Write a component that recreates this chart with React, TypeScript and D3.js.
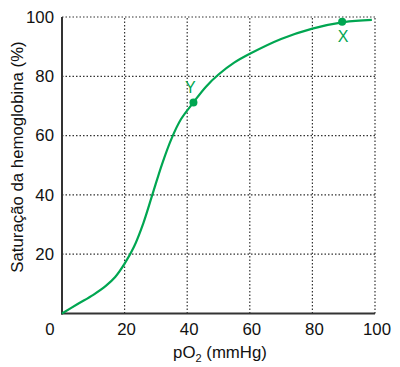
import React from "react";
import * as d3 from "d3";

const pO2 = [0, 5, 10, 14, 17, 20, 23, 26, 29, 32, 35, 38, 42, 46, 50, 55, 60, 70, 80, 90, 99];
const saturation = [0, 3.2, 6.3, 9.3, 12.3, 16.8, 22.5, 30.5, 40.5, 50.5, 59, 65.5, 71.2, 76.5, 80.6, 84.6, 87.6, 92.6, 96.1, 98.3, 99];
const xTicks = [20, 40, 60, 80, 100];
const yTicks = [20, 40, 60, 80, 100];
const markedPoints = [
  { label: "Y", x: 42, y: 71.2, dx: -3, dy: -9 },
  { label: "X", x: 89.5, y: 98.4, dx: 1, dy: 20 },
];

const W = 400;
const H = 367;
const GREEN = "#00a651";
const FONT = "Liberation Sans, Arial, sans-serif";
const FS = 16.8;

export default function App() {
  const x = d3.scaleLinear().domain([0, 100]).range([62, 375]);
  const y = d3.scaleLinear().domain([0, 100]).range([313.5, 17]);
  const data = pO2.map((p, i) => [p, saturation[i]] as [number, number]);
  const line = d3
    .line<[number, number]>()
    .x((d) => x(d[0]))
    .y((d) => y(d[1]))
    .curve(d3.curveCatmullRom.alpha(0.5));

  return (
    <svg width={W} height={H} style={{ position: "absolute", left: 0, top: 0 }} fontFamily={FONT}>
      <rect width={W} height={H} fill="#fff" />
      {xTicks.map((t) => (
        <line key={"gx" + t} x1={x(t)} x2={x(t)} y1={y(0)} y2={y(100)} stroke="#333" strokeWidth={1.2} strokeDasharray="1.5,2" />
      ))}
      {yTicks.map((t) => (
        <line key={"gy" + t} x1={x(0)} x2={x(100)} y1={y(t)} y2={y(t)} stroke="#333" strokeWidth={1.2} strokeDasharray="1.5,2" />
      ))}
      <line x1={x(0)} x2={x(0)} y1={y(0) + 1} y2={y(100)} stroke="#333" strokeWidth={2} />
      <line x1={x(0) - 1} x2={x(100)} y1={y(0)} y2={y(0)} stroke="#333" strokeWidth={2} />
      <path d={line(data) || ""} fill="none" stroke={GREEN} strokeWidth={2.2} />
      {markedPoints.map((p) => (
        <g key={p.label}>
          <circle cx={x(p.x)} cy={y(p.y)} r={4} fill={GREEN} />
          <text x={x(p.x) + p.dx} y={y(p.y) + p.dy} fill={GREEN} fontSize={16} textAnchor="middle">
            {p.label}
          </text>
        </g>
      ))}
      {yTicks.map((t) => (
        <text key={"ty" + t} x={54} y={y(t)} dy="0.35em" fontSize={FS} textAnchor="end" fill="#111">
          {t}
        </text>
      ))}
      <text x={50} y={335} fontSize={FS} textAnchor="middle" fill="#111">0</text>
      {xTicks.map((t) => (
        <text key={"tx" + t} x={x(t) + 2} y={335} fontSize={FS} textAnchor="middle" fill="#111">
          {t}
        </text>
      ))}
      <text x={220} y={358} fontSize={FS} textAnchor="middle" fill="#111">
        pO<tspan fontSize={11} dy={4}>2</tspan>
        <tspan dy={-4}> (mmHg)</tspan>
      </text>
      <text
        transform={`translate(23,157) rotate(-90)`}
        fontSize={FS}
        textAnchor="middle"
        fill="#111"
      >
        Saturação da hemoglobina (%)
      </text>
    </svg>
  );
}
